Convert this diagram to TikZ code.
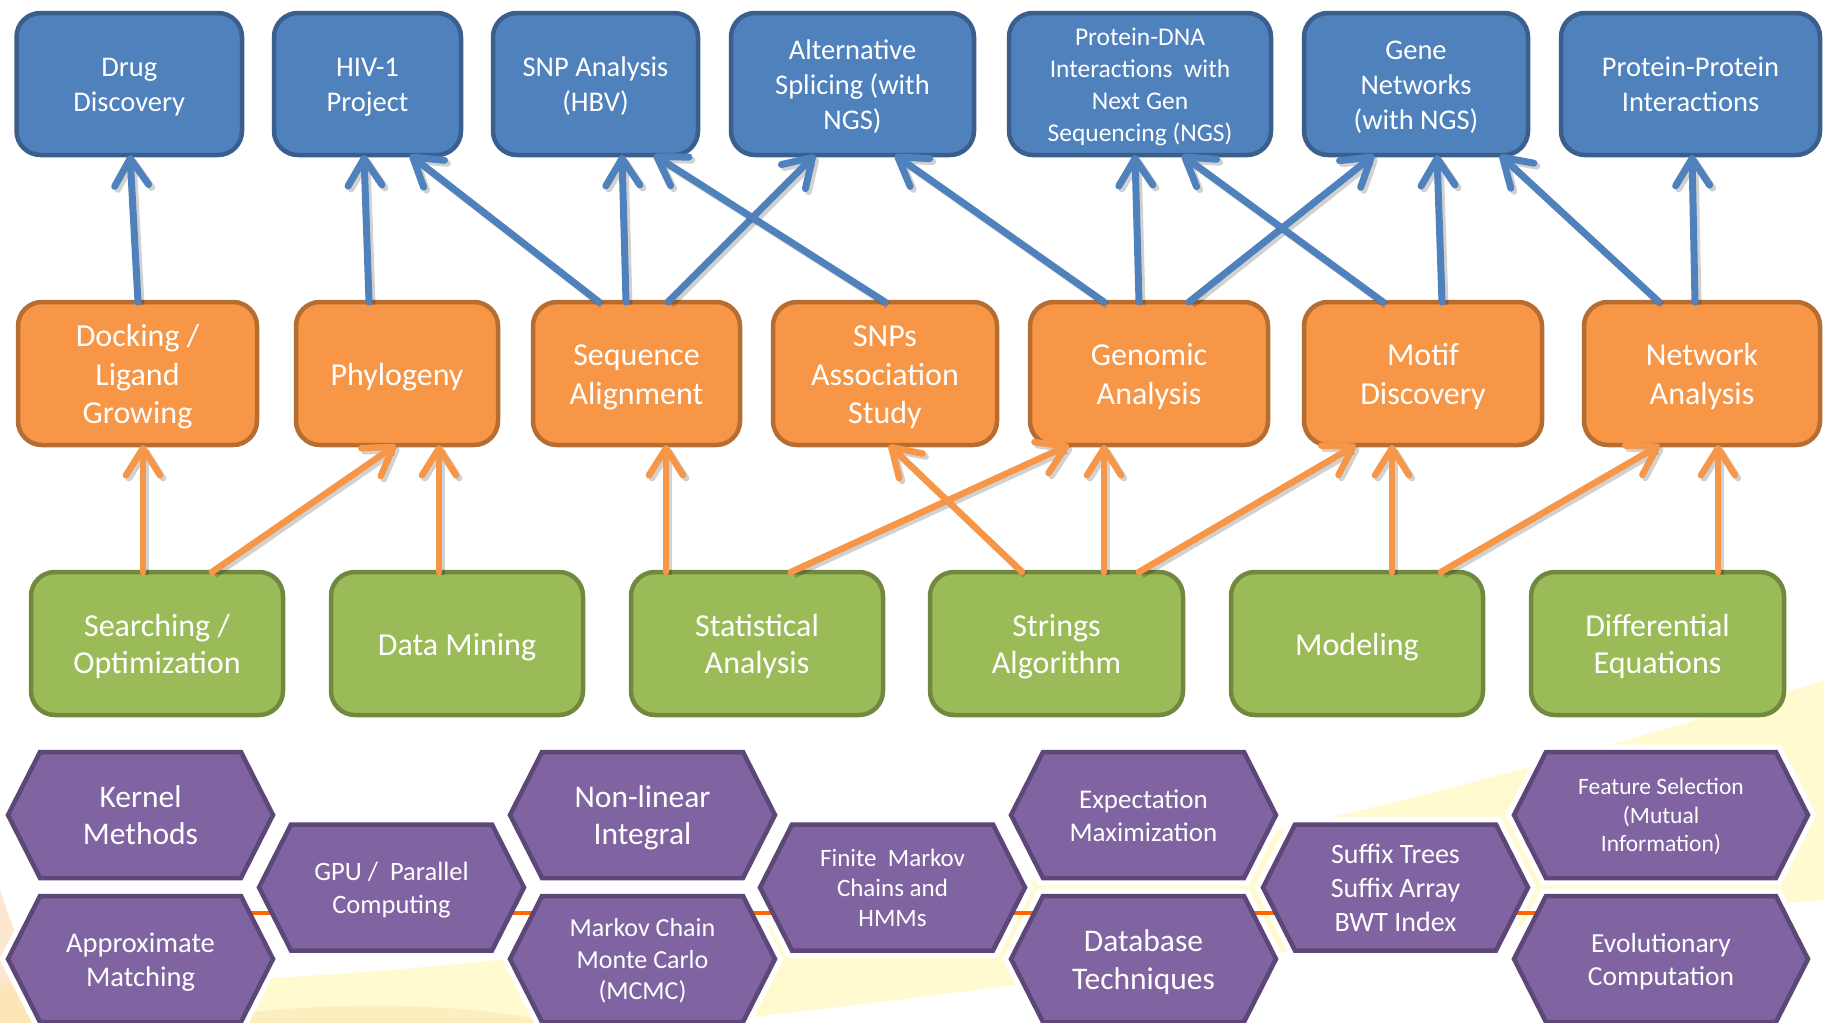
\documentclass[tikz,border=0pt]{standalone}
\usepackage{fontspec}
\setmainfont{Carlito}
\usetikzlibrary{arrows.meta}
\definecolor{bfill}{HTML}{4F81BD}
\definecolor{bdraw}{HTML}{3A5F8D}
\definecolor{ofill}{HTML}{F79646}
\definecolor{odraw}{HTML}{B66D31}
\definecolor{gfill}{HTML}{9BBB59}
\definecolor{gdraw}{HTML}{71893F}
\definecolor{pfill}{HTML}{8064A2}
\definecolor{pdraw}{HTML}{5C4776}
\definecolor{hexline}{HTML}{FF6600}
\definecolor{bgyellow}{HTML}{FFF6A8}
\definecolor{bgpeach}{HTML}{FBD3A0}
\newcommand{\fs}[2]{\fontsize{#1}{#2}\selectfont}
\newcommand{\T}{\rule{0pt}{0.971em}}
\newcommand{\botstrut}{\rule[-0.25em]{0pt}{0.25em}}
\newcommand{\hexhalo}[3]{%
  \draw[white,line width=15pt,line join=miter,fill=white]
    ({#1-#3},#2) -- ({#1-#3+32},{#2-63}) -- ({#1+#3-32},{#2-63}) -- ({#1+#3},#2)
    -- ({#1+#3-32},{#2+63}) -- ({#1-#3+32},{#2+63}) -- cycle;}
\newcommand{\hexa}[6]{%
  \draw[fill=pfill,draw=pdraw,line width=4.5pt,line join=miter]
    ({#2-#4},#3) -- ({#2-#4+32},{#3-63}) -- ({#2+#4-32},{#3-63}) -- ({#2+#4},#3)
    -- ({#2+#4-32},{#3+63}) -- ({#2-#4+32},{#3+63}) -- cycle;
  \node[hextext,font=#5] (#1) at (#2,#3) {\T #6};}
\newcommand{\conn}[5]{%
  \draw[#1shadow] ([xshift=#3pt]#2.north) -- ([xshift=#5pt]#4.south);
  \draw[#1arrow] ([xshift=#3pt]#2.north) -- ([xshift=#5pt]#4.south);}
\begin{document}
\begin{tikzpicture}[x=1pt,y=-1pt,
  struts/.style={execute at end node=\botstrut},
  box/.style={rectangle, rounded corners=24pt, line width=4.5pt, outer sep=0pt,
    inner sep=0pt, align=center, text=white, minimum height=142pt, struts},
  bluebox/.style={box, fill=bfill, draw=bdraw, font=\fs{28.5}{35}},
  orangebox/.style={box, fill=ofill, draw=odraw, font=\fs{32}{38.5}, minimum height=143pt},
  greenbox/.style={box, fill=gfill, draw=gdraw, font=\fs{32}{37}, minimum height=143pt},
  hextext/.style={align=center, text=white, inner sep=0pt, struts},
  tipshape/.style={-{Straight Barb[length=27pt,width=34pt,round]}},
  barrow/.style={draw=bfill, line width=7pt, line cap=round, tipshape},
  bshadow/.style={draw=black, opacity=0.18, line width=7pt, tipshape,
    transform canvas={shift={(3pt,-3pt)}}},
  oarrow/.style={draw=ofill, line width=6.5pt, line cap=round, tipshape},
  oshadow/.style={draw=black, opacity=0.18, line width=6.5pt, tipshape,
    transform canvas={shift={(3pt,-3pt)}}},
]
\useasboundingbox (0,0) rectangle (1824,1023);
\fill[white] (0,0) rectangle (1824,1023);
% background swoosh
\fill[bgyellow,opacity=0.55] (0,985) .. controls (600,990) and (1300,850) .. (1824,680)
  -- (1824,900) .. controls (1400,930) and (1000,990) .. (700,1023) -- (0,1023) -- cycle;
\fill[bgpeach,opacity=0.5] (0,890) .. controls (20,950) and (40,1000) .. (70,1023) -- (0,1023) -- cycle;
\fill[bgpeach,opacity=0.3] (180,1023) .. controls (300,1000) and (450,1000) .. (560,1023) -- cycle;

% ---------- blue row ----------
\node[bluebox, minimum width=225.5pt] (drug) at (129.25,84) {\T Drug\\Discovery};
\node[bluebox, minimum width=187pt] (hiv) at (367.5,84) {\T HIV-1\\Project};
\node[bluebox, minimum width=205pt] (snp) at (595.5,84) {\T SNP Analysis\\(HBV)};
\node[bluebox, minimum width=243pt] (alt) at (852.5,84) {\T Alternative\\Splicing (with\\NGS)};
\node[bluebox, minimum width=262pt, font=\fs{25.5}{32}] (pdna) at (1140,84)
  {\T Protein-DNA\\Interactions\ \ with\\Next Gen\\Sequencing (NGS)};
\node[bluebox, minimum width=224pt] (gene) at (1416,84) {\T Gene\\Networks\\(with NGS)};
\node[bluebox, minimum width=259pt] (ppi) at (1690.5,84) {\T Protein-Protein\\Interactions};

% ---------- orange row ----------
\node[orangebox, minimum width=239pt] (dock) at (137.5,373.5) {\T Docking /\\Ligand\\Growing};
\node[orangebox, minimum width=202pt] (phylo) at (397,373.5) {\T Phylogeny};
\node[orangebox, minimum width=207pt] (seq) at (636.5,373.5) {\T Sequence\\Alignment};
\node[orangebox, minimum width=224pt] (snps) at (885,373.5) {\T SNPs\\Association\\Study};
\node[orangebox, minimum width=238pt] (genomic) at (1149,373.5) {\T Genomic\\Analysis};
\node[orangebox, minimum width=238pt] (motif) at (1423,373.5) {\T Motif\\Discovery};
\node[orangebox, minimum width=236pt] (network) at (1702,373.5) {\T Network\\Analysis};

% ---------- green row ----------
\node[greenbox, minimum width=252pt] (search) at (157,643.5) {\T Searching /\\Optimization};
\node[greenbox, minimum width=252pt] (mining) at (457,643.5) {\T Data Mining};
\node[greenbox, minimum width=252pt] (stat) at (757,643.5) {\T Statistical\\Analysis};
\node[greenbox, minimum width=253pt] (strings) at (1056.5,643.5) {\T Strings\\Algorithm};
\node[greenbox, minimum width=252pt] (modeling) at (1357,643.5) {\T Modeling};
\node[greenbox, minimum width=253pt] (diff) at (1657.5,643.5) {\T Differential\\Equations};

% ---------- blue connectors ----------
\conn{b}{dock}{0.5}{drug}{0.75}
\conn{b}{phylo}{-28}{hiv}{-3.5}
\conn{b}{seq}{-37.5}{hiv}{42.5}
\conn{b}{seq}{-10.5}{snp}{26.5}
\conn{b}{seq}{31.5}{alt}{-37.5}
\conn{b}{snps}{0}{snp}{58.5}
\conn{b}{genomic}{-45}{alt}{42.5}
\conn{b}{genomic}{-10}{pdna}{-5}
\conn{b}{genomic}{40}{gene}{-42}
\conn{b}{motif}{-40}{pdna}{42}
\conn{b}{motif}{19}{gene}{21}
\conn{b}{network}{-43}{gene}{84}
\conn{b}{network}{-7}{ppi}{1.5}

% ---------- orange connectors ----------
\conn{o}{search}{-14}{dock}{5.5}
\conn{o}{search}{55}{phylo}{-1}
\conn{o}{mining}{-18}{phylo}{42}
\conn{o}{stat}{-91}{seq}{29.5}
\conn{o}{stat}{34}{genomic}{-80}
\conn{o}{strings}{-34.5}{snps}{4}
\conn{o}{strings}{47.5}{genomic}{-45}
\conn{o}{strings}{82.5}{motif}{-67}
\conn{o}{modeling}{35}{motif}{-31}
\conn{o}{modeling}{84}{network}{-42}
\conn{o}{diff}{60.5}{network}{16}

% ---------- hexagons ----------
\hexhalo{140.5}{815}{132.5}
\hexhalo{140.5}{959}{132.5}
\hexhalo{391.5}{887.5}{132.5}
\hexhalo{642.5}{815}{132.5}
\hexhalo{642.5}{959}{132.5}
\hexhalo{892.5}{887.5}{132.5}
\hexhalo{1143.5}{815}{132.5}
\hexhalo{1143.5}{959}{132.5}
\hexhalo{1395.5}{887.5}{132.5}
\hexhalo{1661}{815}{147}
\hexhalo{1661}{959}{147}
\coordinate (lineL) at (140,913);
\coordinate (lineR) at (1660,913);
\draw[hexline,line width=4pt] (lineL) -- (lineR);
\hexa{kernel}{140.5}{815}{132.5}{\fs{31.5}{37}}{Kernel\\Methods}
\hexa{approx}{140.5}{959}{132.5}{\fs{28.5}{33.7}}{Approximate\\Matching}
\hexa{gpu}{391.5}{887.5}{132.5}{\fs{26.5}{32.6}}{GPU /\ \ Parallel\\Computing}
\hexa{nonlin}{642.5}{815}{132.5}{\fs{31.5}{37}}{Non-linear\\Integral}
\hexa{mcmc}{642.5}{959}{132.5}{\fs{26}{31.4}}{Markov Chain\\Monte Carlo\\(MCMC)}
\hexa{finite}{892.5}{887.5}{132.5}{\fs{25}{30}}{Finite\ \ Markov\\Chains and\\HMMs}
\hexa{expect}{1143.5}{815}{132.5}{\fs{27}{32.6}}{Expectation\\Maximization}
\hexa{database}{1143.5}{959}{132.5}{\fs{31.5}{38}}{Database\\Techniques}
\hexa{suffix}{1395.5}{887.5}{132.5}{\fs{28}{33.7}}{Suffix Trees\\Suffix Array\\BWT Index}
\hexa{feature}{1661}{815}{147}{\fs{23.5}{28.5}}{Feature Selection\\(Mutual\\Information)}
\hexa{evol}{1661}{959}{147}{\fs{27.5}{32.6}}{Evolutionary\\Computation}
\end{tikzpicture}
\end{document}
